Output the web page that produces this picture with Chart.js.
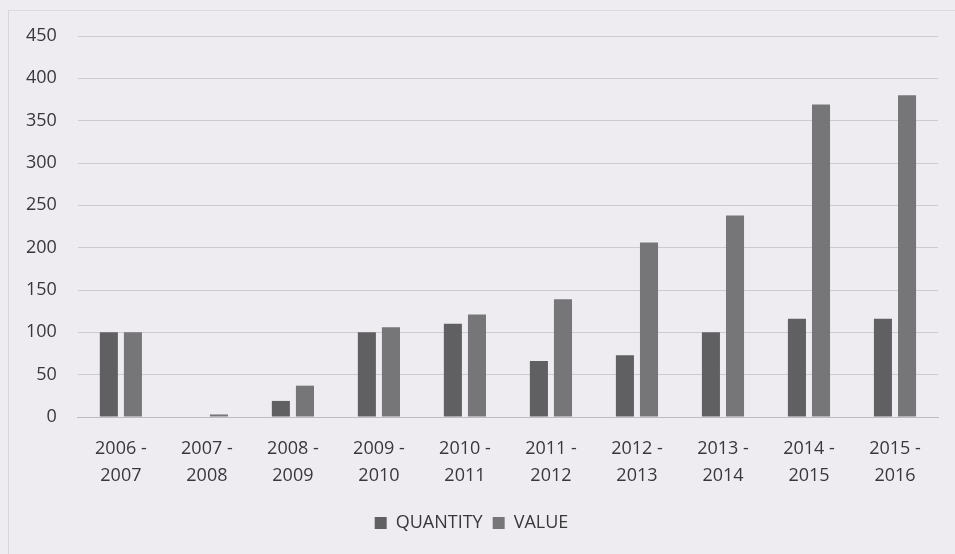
<!DOCTYPE html>
<html>
<head>
<meta charset="utf-8">
<script src="https://cdn.jsdelivr.net/npm/chart.js@4"></script>
<style>
  html, body { margin: 0; padding: 0; background: #eeecf1; }
  #wrap { position: relative; width: 955px; height: 554px; box-sizing: border-box; }
  #wrap::before {
    content: ""; position: absolute; left: 8px; top: 10px; right: -2px; bottom: -2px;
    border-left: 1px solid #d8d6dc; border-top: 1px solid #dcdae0; pointer-events: none;
  }
</style>
</head>
<body>
<div id="wrap"><canvas id="chart" width="955" height="554"></canvas></div>
<script>
// year ranges on the x axis, two lines each
const PERIODS = [
  ["2006 -", "2007"], ["2007 -", "2008"], ["2008 -", "2009"], ["2009 -", "2010"], ["2010 -", "2011"],
  ["2011 -", "2012"], ["2012 -", "2013"], ["2013 -", "2014"], ["2014 -", "2015"], ["2015 -", "2016"],
];
const QUANTITY = [100, 0, 19, 100, 110, 66, 73, 100, 116, 116];
const VALUE    = [100, 3, 37, 106, 121, 139, 206, 238, 369, 380];
const Y_TICKS  = [0, 50, 100, 150, 200, 250, 300, 350, 400, 450];

const FONT = "'Open Sans', Lato, sans-serif";
const TEXT = "#38383a";

new Chart(document.getElementById("chart"), {
  type: "bar",
  data: {
    labels: PERIODS,
    datasets: [
      { label: "QUANTITY", data: QUANTITY, backgroundColor: "#606062" },
      { label: "VALUE",    data: VALUE,    backgroundColor: "#767678" },
    ],
  },
  options: {
    responsive: false,
    animation: false,
    layout: { padding: { left: 5, right: 17, top: 36, bottom: 12 } },
    datasets: { bar: { categoryPercentage: 0.56, barPercentage: 0.75 } },
    plugins: {
      tooltip: { enabled: false },
      legend: {
        position: "bottom",
        labels: {
          font: { family: FONT, size: 18 }, color: TEXT,
          boxWidth: 12, boxHeight: 12, padding: 10,
        },
      },
    },
    scales: {
      x: {
        grid: { display: false },
        border: { color: "#bdbcc0" },
        ticks: { font: { family: FONT, size: 18, lineHeight: 1.5 }, color: TEXT, maxRotation: 0, padding: 10 },
        // keep some blank room between the period labels and the legend
        afterFit: scale => { scale.height += 5; },
      },
      y: {
        min: 0, max: 450,
        afterBuildTicks: axis => { axis.ticks = Y_TICKS.map(v => ({ value: v })); },
        grid: { color: "#cdcbd1", drawTicks: false },
        border: { display: false },
        ticks: { font: { family: FONT, size: 18 }, color: TEXT, padding: 21 },
      },
    },
  },
});
</script>
</body>
</html>
